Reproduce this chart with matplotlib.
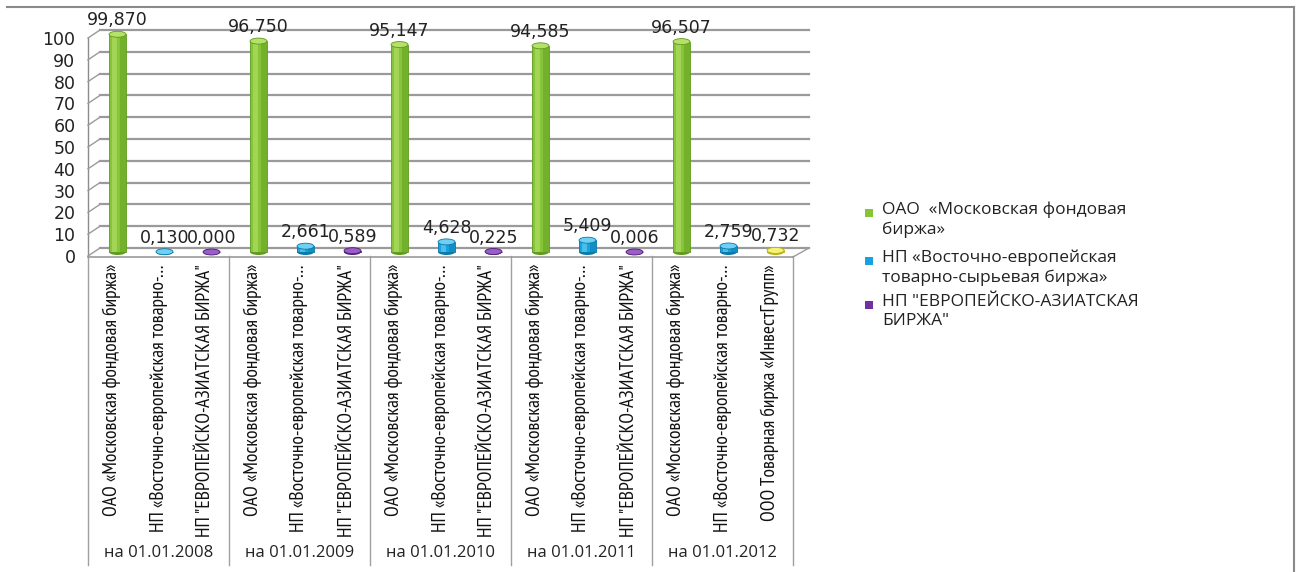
import matplotlib
matplotlib.use("Agg")
import matplotlib.pyplot as plt
import matplotlib.transforms as mtransforms
from matplotlib import font_manager
from matplotlib.ft2font import FT2Font
from matplotlib.patches import Ellipse, Rectangle
from matplotlib.lines import Line2D

# data
dates = ["на 01.01.2008", "на 01.01.2009", "на 01.01.2010", "на 01.01.2011", "на 01.01.2012"]
moex = [99.870, 96.750, 95.147, 94.585, 96.507]
vetsb = [0.130, 2.661, 4.628, 5.409, 2.759]
third = [0.000, 0.589, 0.225, 0.006, 0.732]

name_moex = "ОАО «Московская фондовая биржа»"
name_vetsb = "НП «Восточно-европейская товарно-…"
name_eab = "НП \"ЕВРОПЕЙСКО-АЗИАТСКАЯ БИРЖА\""
name_invest = "ООО Товарная биржа «ИнвестГрупп»"
third_names = [name_eab, name_eab, name_eab, name_eab, name_invest]

legend_labels = ["ОАО  «Московская фондовая\nбиржа»",
                 "НП «Восточно-европейская\nтоварно-сырьевая биржа»",
                 "НП \"ЕВРОПЕЙСКО-АЗИАТСКАЯ\nБИРЖА\""]

green = "#86c43a"
green_dk = "#5e9a1c"
green_lt = "#b5e06a"
blue = "#16a2dc"
blue_dk = "#0b78a8"
blue_lt = "#6fd0f4"
purple = "#7030a0"
purple_dk = "#4e1f74"
purple_lt = "#9a5cc8"
yellow = "#e6e01e"
yellow_dk = "#b8b010"
yellow_lt = "#f5f27a"


def has_cyrillic(path):
    try:
        ft = FT2Font(path)
        return all(ft.get_char_index(ord(c)) != 0 for c in "БЖЯжя«…")
    except Exception:
        return False


# look for a narrow, regular-weight font with Cyrillic for the rotated category labels
narrow = None
for f in font_manager.fontManager.ttflist:
    regular = f.style == "normal" and f.weight in (400, "normal", "regular", "book")
    if regular and ("Narrow" in f.name or "condensed" in str(f.stretch)) and has_cyrillic(f.fname):
        narrow = f.fname
        if "Narrow" in f.name:
            break

W, H = 1297, 572
fig = plt.figure(figsize=(W / 100, H / 100), dpi=100)
renderer = fig.canvas.get_renderer()

if narrow:
    cat_fp = font_manager.FontProperties(fname=narrow, size=10)
else:
    cat_fp = font_manager.FontProperties(family="DejaVu Sans", size=10)
# size so the longest label runs ~252 px like the reference
probe = fig.text(0, 0, "ОАО «Московская фондовая биржа»", fontproperties=cat_fp)
wpx = probe.get_window_extent(renderer).width
probe.remove()
cat_fp.set_size(min(14, 10 * 252 / wpx))

x0, x1 = 88, 793
y_top, y_bot = 38, 256
ax = fig.add_axes([x0 / W, 1 - y_bot / H, (x1 - x0) / W, (y_bot - y_top) / H])
ax.set_xlim(-0.5, 14.5)
ax.set_ylim(0, 100)
for s in ["top", "right", "bottom"]:
    ax.spines[s].set_visible(False)
ax.spines["left"].set_color("#8c8c8c")
ax.spines["left"].set_linewidth(1.0)
ax.set_xticks([])
ax.set_yticks(range(0, 101, 10))
ax.tick_params(axis="y", length=0, pad=9, labelsize=12.5, labelcolor="#222222")

ppx = 218 / 100.0   # pixels per data unit
dx_back, dy_back = 12, 8
back = ax.get_yaxis_transform() + mtransforms.ScaledTranslation(0, dy_back / 100, fig.dpi_scale_trans)
ax_px = (x1 - x0)
for t in range(0, 101, 10):
    ax.plot([dx_back / ax_px, 1 + 16 / ax_px], [t, t], color="#9a9a9a", lw=1.6,
            transform=back, clip_on=False, zorder=1)


def fig_line(xs, ys, **kw):
    fig.add_artist(Line2D([x / W for x in xs], [1 - y / H for y in ys], transform=fig.transFigure, **kw))


# slants on the left wall
for t in range(0, 101, 10):
    yp = y_bot - t * ppx
    fig_line([x0, x0 + dx_back], [yp, yp - dy_back], color="#9a9a9a", lw=1.0)
# floor
fig_line([x0, x1], [y_bot + 1, y_bot + 1], color="#9a9a9a", lw=1.2)
fig_line([x1, x1 + 16], [y_bot + 1, y_bot - dy_back], color="#9a9a9a", lw=1.0)

# bars as cylinders
bar_off = ax.transData + mtransforms.ScaledTranslation(6 / 100, 4 / 100, fig.dpi_scale_trans)
bw = 0.36
eh = 6 / ppx


def cylinder(xc, h, col, dk, lt):
    parts = [Ellipse((xc, 0), bw, eh, facecolor=dk, edgecolor="none"),
             Rectangle((xc - bw / 2, 0), bw, h, facecolor=col, edgecolor=dk, lw=0.6),
             Rectangle((xc - bw / 2 + bw * 0.62, 0), bw * 0.38, h, facecolor=dk, alpha=0.45,
                       edgecolor="none"),
             Rectangle((xc - bw / 2 + bw * 0.2, 0), bw * 0.25, h, facecolor=lt, alpha=0.6,
                       edgecolor="none"),
             Ellipse((xc, h), bw, eh, facecolor=lt, edgecolor=dk, lw=0.6)]
    for z, p in enumerate(parts):
        p.set_transform(bar_off)
        p.set_clip_on(False)
        p.set_zorder(3 + z * 0.1)
        ax.add_patch(p)


def fmt(v):
    return "{:.3f}".format(v).replace(".", ",")


for g in range(len(dates)):
    vals = [moex[g], vetsb[g], third[g]]
    cols = [(green, green_dk, green_lt), (blue, blue_dk, blue_lt),
            (yellow, yellow_dk, yellow_lt) if third_names[g] == name_invest else (purple, purple_dk, purple_lt)]
    for k in range(3):
        xc = g * 3 + k
        cylinder(xc, vals[k], *cols[k])
        ax.annotate(fmt(vals[k]), (xc, vals[k]), xytext=(6, 18), textcoords="offset pixels",
                    ha="center", va="center", fontsize=12.5, color="#222222", zorder=5,
                    annotation_clip=False)

# category labels
cat_names = []
for g in range(len(dates)):
    cat_names += [name_moex, name_vetsb, third_names[g]]
xa = ax.get_xaxis_transform()
for i, nm in enumerate(cat_names):
    ax.text(i, -(264 - y_bot) / 218, nm, rotation=90, ha="center", va="top", transform=xa,
            color="#111111", fontproperties=cat_fp)

# group separators and group labels
for g in range(len(dates) + 1):
    ax.plot([g * 3 - 0.5, g * 3 - 0.5], [0, -(565 - y_bot) / 218], color="#a0a0a0", lw=1.0,
            transform=xa, clip_on=False)
for g, d in enumerate(dates):
    ax.text(g * 3 + 1, -(553 - y_bot) / 218, d, ha="center", va="center", transform=xa,
            fontsize=12, family=["Open Sans", "DejaVu Sans"], color="#222222")

# legend
leg_cols = [green, blue, purple]
leg_y = [213, 261, 305]
for c, lab, yy in zip(leg_cols, legend_labels, leg_y):
    fig.add_artist(Rectangle((865 / W, 1 - (yy + 4) / H), 8 / W, 8 / H, facecolor=c,
                             edgecolor="none", transform=fig.transFigure))
    fig.text(882 / W, 1 - (yy - 11) / H, lab, ha="left", va="top", fontsize=12.5,
             family=["Open Sans", "DejaVu Sans"], color="#222222", linespacing=1.25)

# outer frame (top and right)
fig_line([7, 1294], [7, 7], color="#8a8a8a", lw=1.5)
fig_line([1294, 1294], [7, 572], color="#8a8a8a", lw=1.5)

fig.savefig("out.png", dpi=100, facecolor="white")
